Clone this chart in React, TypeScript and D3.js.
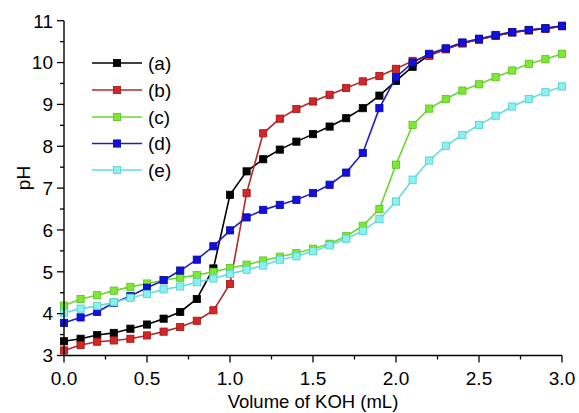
import React from 'react';
import * as d3 from 'd3';

const volumes = [0.0,0.1,0.2,0.3,0.4,0.5,0.6,0.7,0.8,0.9,1.0,1.1,1.2,1.3,1.4,1.5,1.6,1.7,1.8,1.9,2.0,2.1,2.2,2.3,2.4,2.5,2.6,2.7,2.8,2.9,3.0];
const seriesA = [3.34,3.40,3.49,3.54,3.64,3.74,3.88,4.04,4.35,5.08,6.84,7.40,7.69,7.92,8.11,8.29,8.47,8.67,8.91,9.21,9.56,9.90,10.18,10.32,10.46,10.55,10.64,10.72,10.77,10.81,10.87];
const seriesB = [3.12,3.25,3.33,3.36,3.40,3.48,3.57,3.68,3.83,4.08,4.71,6.88,8.31,8.66,8.89,9.07,9.23,9.39,9.55,9.68,9.85,10.04,10.16,10.32,10.46,10.55,10.64,10.72,10.77,10.81,10.87];
const seriesC = [4.19,4.35,4.44,4.55,4.64,4.72,4.80,4.86,4.92,5.00,5.09,5.17,5.27,5.36,5.45,5.55,5.67,5.85,6.10,6.50,7.56,8.51,8.90,9.13,9.33,9.48,9.65,9.81,9.97,10.08,10.21];
const seriesD = [3.78,3.91,4.04,4.26,4.42,4.62,4.80,5.03,5.29,5.61,5.99,6.30,6.48,6.60,6.72,6.88,7.08,7.37,7.84,8.91,9.65,10.00,10.21,10.34,10.48,10.57,10.66,10.73,10.78,10.82,10.88];
const seriesE = [4.02,4.12,4.18,4.27,4.38,4.47,4.58,4.65,4.75,4.84,4.95,5.05,5.15,5.29,5.37,5.49,5.63,5.79,5.98,6.26,6.68,7.20,7.66,8.01,8.27,8.51,8.73,8.95,9.13,9.29,9.43];
const seriesNames = ['(a)', '(b)', '(c)', '(d)', '(e)'];
const xTicks = [0, 0.5, 1.0, 1.5, 2.0, 2.5, 3.0];
const xMinorTicks = [0.25, 0.75, 1.25, 1.75, 2.25, 2.75];
const yTicks = [3, 4, 5, 6, 7, 8, 9, 10, 11];
const yMinorTicks = [3.5, 4.5, 5.5, 6.5, 7.5, 8.5, 9.5, 10.5];

const styles = [
  { line: '#000000', fill: '#000000', stroke: '#000000' },
  { line: '#b02a2a', fill: '#d42626', stroke: '#9a1818' },
  { line: '#6ad830', fill: '#7ee832', stroke: '#58c020' },
  { line: '#1e1ec0', fill: '#1010e6', stroke: '#0a0a8c' },
  { line: '#66dcdc', fill: '#8af0f0', stroke: '#50cccc' },
];

const W = 579, H = 413;
const FONT = 'Liberation Sans, Arial, sans-serif';

export default function App() {
  const x = d3.scaleLinear().domain([0, 3]).range([64, 562]);
  const y = d3.scaleLinear().domain([3, 11]).range([355.5, 20.7]);
  const all = [seriesA, seriesB, seriesC, seriesD, seriesE];
  const line = d3.line<number>().x((_, i) => x(volumes[i])).y((d) => y(d));
  const ms = 7.2;
  const legendY = [63, 90, 117, 143.5, 170];

  return (
    <svg width={W} height={H} style={{ position: 'absolute', left: 0, top: 0, background: '#fff' }}>
      <rect width={W} height={H} fill="#fff" />
      {all.map((s, k) => (
        <g key={k}>
          <path d={line(s) || ''} fill="none" stroke={styles[k].line} strokeWidth={1.6} />
          {s.map((v, i) => (
            <rect key={i} x={x(volumes[i]) - ms / 2} y={y(v) - ms / 2} width={ms} height={ms}
              fill={styles[k].fill} stroke={styles[k].stroke} strokeWidth={0.8} />
          ))}
        </g>
      ))}
      {/* axes */}
      <line x1={64} x2={64} y1={20.7} y2={355.5} stroke="#000" strokeWidth={1.4} />
      <line x1={64} x2={562} y1={355.5} y2={355.5} stroke="#000" strokeWidth={1.4} />
      {yTicks.map((t) => (
        <g key={'y' + t}>
          <line x1={57} x2={64} y1={y(t)} y2={y(t)} stroke="#000" strokeWidth={1.3} />
          <text x={53} y={y(t)} dy="0.36em" textAnchor="end" fontFamily={FONT} fontSize={19}>{t}</text>
        </g>
      ))}
      {yMinorTicks.map((t) => (
        <line key={'ym' + t} x1={60} x2={64} y1={y(t)} y2={y(t)} stroke="#000" strokeWidth={1.3} />
      ))}
      {xTicks.map((t) => (
        <g key={'x' + t}>
          <line x1={x(t)} x2={x(t)} y1={355.5} y2={362.5} stroke="#000" strokeWidth={1.3} />
          <text x={x(t)} y={385} textAnchor="middle" fontFamily={FONT} fontSize={19}>{t.toFixed(1)}</text>
        </g>
      ))}
      {xMinorTicks.map((t) => (
        <line key={'xm' + t} x1={x(t)} x2={x(t)} y1={355.5} y2={359.5} stroke="#000" strokeWidth={1.3} />
      ))}
      <text x={313} y={408} textAnchor="middle" fontFamily={FONT} fontSize={18.5}>Volume of KOH (mL)</text>
      <text transform="translate(30,178) rotate(-90)" textAnchor="middle" fontFamily={FONT} fontSize={19}>pH</text>
      {/* legend */}
      {seriesNames.map((n, k) => (
        <g key={'lg' + k}>
          <line x1={92} x2={142} y1={legendY[k]} y2={legendY[k]} stroke={styles[k].line} strokeWidth={1.6} />
          <rect x={117 - ms / 2} y={legendY[k] - ms / 2} width={ms} height={ms}
            fill={styles[k].fill} stroke={styles[k].stroke} strokeWidth={0.8} />
          <text x={148} y={legendY[k]} dy="0.36em" fontFamily={FONT} fontSize={19}>{n}</text>
        </g>
      ))}
    </svg>
  );
}
